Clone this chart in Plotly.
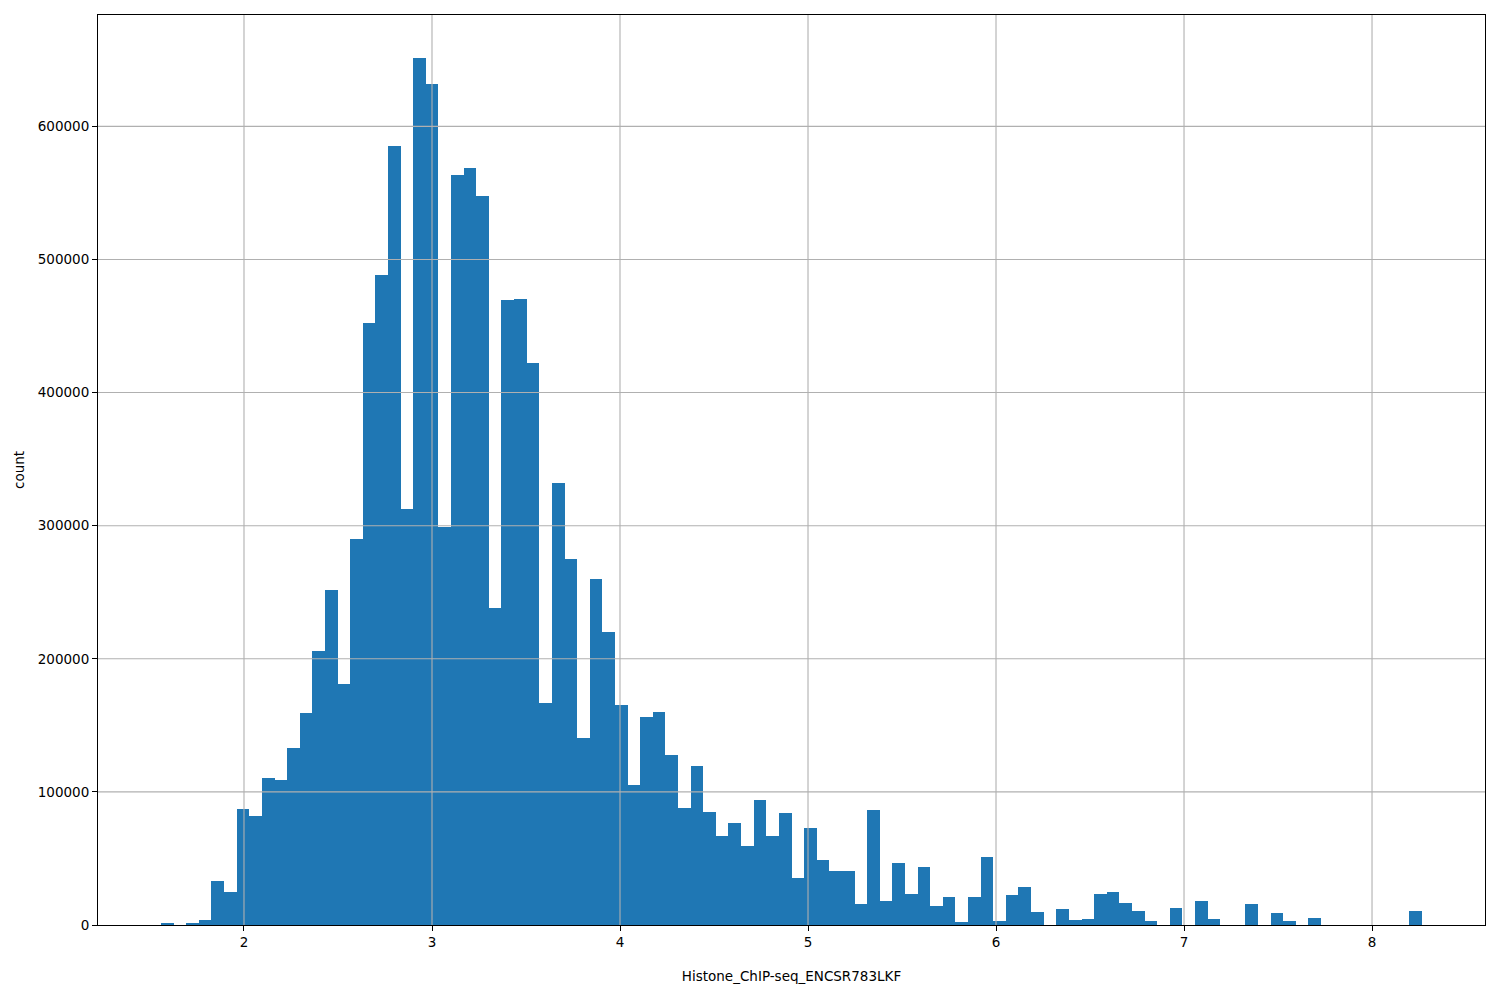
import plotly.graph_objects as go

# Histogram data (100 equal-width bins)
bin_start = 1.5588
bin_end = 8.2656
counts = [
    1000, 0, 1000, 3700, 33000, 24800, 87100, 81900, 110400, 108900,
    132900, 159200, 205800, 251600, 181200, 289900, 452100, 488100, 585000, 312400,
    651100, 631800, 299100, 563200, 568500, 547400, 238000, 469300, 470100, 422000,
    166700, 331900, 274800, 140400, 259800, 220000, 165200, 105100, 156200, 160000,
    127700, 87900, 119400, 84900, 66800, 76600, 59300, 93900, 66800, 84100,
    35300, 72800, 48800, 40500, 40500, 15800, 86400, 18000, 46600, 23300,
    43600, 14300, 21000, 2300, 21000, 51100, 3000, 22500, 28500, 9800,
    0, 12000, 3800, 4500, 23300, 24800, 16500, 10500, 3000, 0,
    12800, 0, 18000, 4500, 0, 0, 15800, 0, 9000, 3000,
    0, 5300, 0, 0, 0, 0, 0, 0, 0, 10500,
]
x_ticks = [2, 3, 4, 5, 6, 7, 8]
y_ticks = [0, 100000, 200000, 300000, 400000, 500000, 600000]
x_title = "Histone_ChIP-seq_ENCSR783LKF"
y_title = "count"

n = len(counts)
w = (bin_end - bin_start) / n
centers = [bin_start + (i + 0.5) * w for i in range(n)]

x_pad = 0.05 * (bin_end - bin_start)
x_range = [bin_start - x_pad, bin_end + x_pad]
y_range = [0, max(counts) * 1.05]

fig = go.Figure()
fig.add_trace(go.Bar(
    x=centers, y=counts, width=[w] * n,
    marker=dict(color="#1f77b4", line=dict(width=0)),
    hoverinfo="x+y",
))

grid_color = "#b0b0b0"
shapes = []
for t in x_ticks:
    shapes.append(dict(type="line", xref="x", yref="paper", x0=t, x1=t, y0=0, y1=1,
                       line=dict(color=grid_color, width=1.1), layer="above"))
for t in y_ticks[1:]:
    shapes.append(dict(type="line", xref="paper", yref="y", x0=0, x1=1, y0=t, y1=t,
                       line=dict(color=grid_color, width=1.1), layer="above"))

font = dict(family="DejaVu Sans", size=13.5, color="black")

fig.update_layout(
    width=1492, height=992,
    margin=dict(l=90, r=15, t=7, b=75),
    paper_bgcolor="white", plot_bgcolor="white",
    bargap=0, showlegend=False,
    font=font,
    shapes=shapes,
    xaxis=dict(
        range=x_range, tickvals=x_ticks, ticktext=[str(t) for t in x_ticks],
        showgrid=False, zeroline=False,
        showline=True, linecolor="black", linewidth=1.1, mirror=True,
        ticks="outside", ticklen=5, tickwidth=1.1, tickcolor="black",
        tickfont=font,
        title=dict(text=x_title, font=font, standoff=22),
    ),
    yaxis=dict(
        range=y_range, tickvals=y_ticks, ticktext=[str(t) for t in y_ticks],
        showgrid=False, zeroline=False,
        showline=True, linecolor="black", linewidth=1.1, mirror=True,
        ticks="outside", ticklen=5, tickwidth=1.1, tickcolor="black",
        tickfont=font,
        title=dict(text=y_title, font=font, standoff=9),
    ),
)

fig.write_html("out.html")
